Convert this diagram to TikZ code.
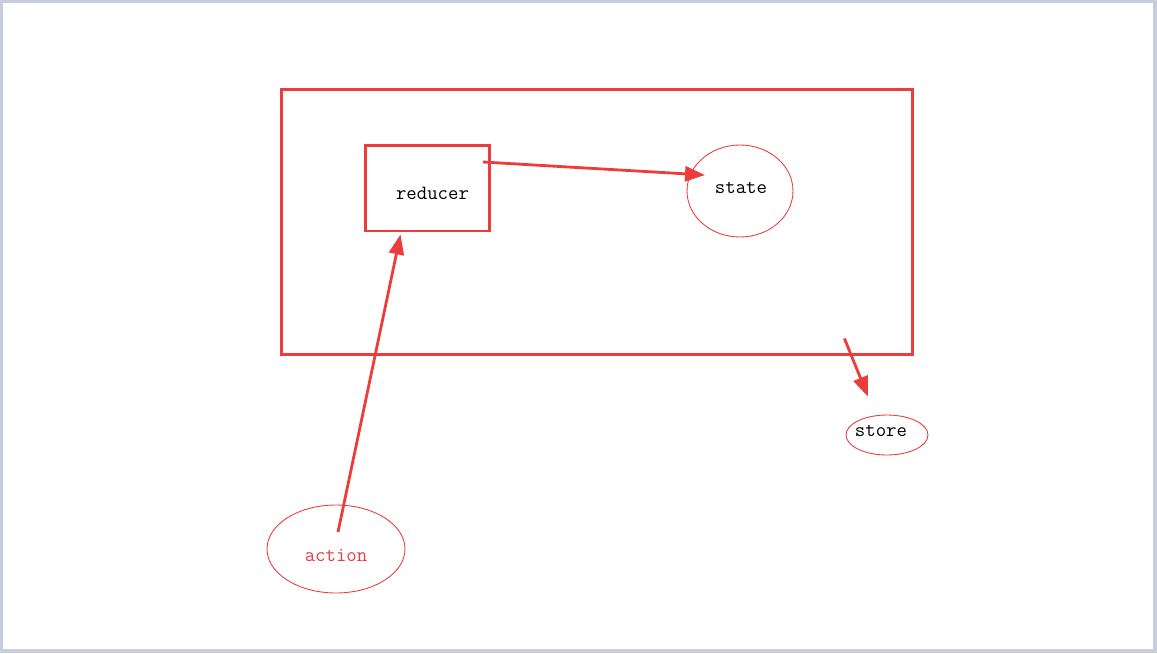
\documentclass[tikz,border=0pt]{standalone}
\usepackage{tikz}
\usetikzlibrary{shapes.geometric, arrows.meta, positioning, calc}
\definecolor{inkred}{RGB}{236,60,60}
\definecolor{framegrey}{RGB}{200,204,224}

\begin{document}
\begin{tikzpicture}[
    x=0.02cm, y=-0.02cm,
    box/.style={draw=inkred, rectangle, line width=1.7pt},
    blob/.style={draw=inkred, ellipse, line width=0.5pt, inner sep=0pt},
    every label/.style={font=\fontsize{11.5}{13}\selectfont\ttfamily, inner sep=0pt},
    arr/.style={inkred, line width=1.6pt, -{Triangle[length=0.4cm, width=0.3cm]}}
  ]
  % Frame
  \useasboundingbox (0,0) rectangle (1157,653);
  \draw[framegrey, line width=2pt] (1,1) rectangle (1155,651);

  % Nodes
  \node[box, minimum width=12.64cm, minimum height=5.32cm] (storebox) at (597,222) {};
  \node[box, minimum width=2.5cm, minimum height=1.72cm,
        label={[shift={(5,5)}]center:reducer}] (reducer) at (427.5,188) {};
  \node[blob, minimum width=2.12cm, minimum height=1.84cm,
        label={[shift={(1,-3)}]center:state}] (state) at (740,191) {};
  \node[blob, minimum width=1.64cm, minimum height=0.8cm,
        label={[shift={(-6,-4)}]center:store}] (store) at (887,435) {};
  \node[blob, minimum width=2.76cm, minimum height=1.76cm,
        label={[shift={(0,6)}, text=inkred]center:action}] (action) at (336,549) {};

  % Connections
  \draw[arr] ($(reducer.center)+(55.5,-26)$) -- ($(state.center)+(-35,-16)$);
  \draw[arr] ($(action.center)+(2,-17)$) -- ($(reducer.south)+(-27,2)$);
  \draw[arr] ($(storebox.south east)+(-70,-18)$) -- ($(store.north)+(-19,-18)$);
\end{tikzpicture}
\end{document}
